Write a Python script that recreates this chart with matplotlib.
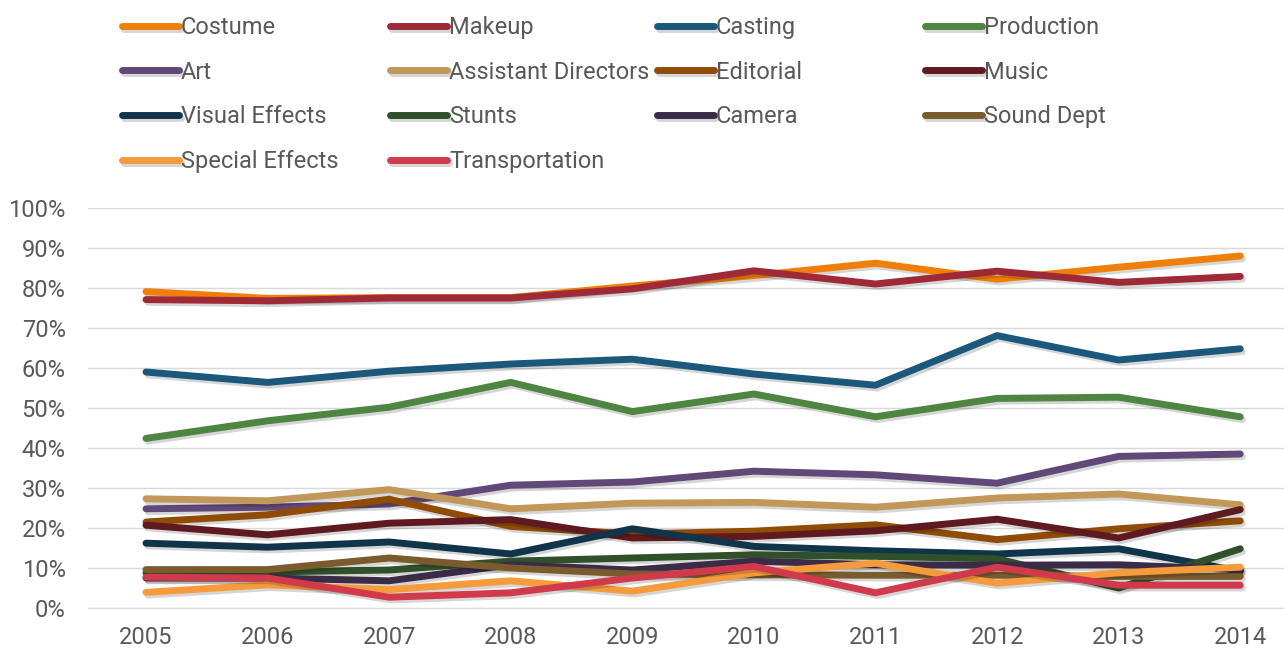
import matplotlib
matplotlib.use('Agg')
import matplotlib.pyplot as plt
import matplotlib.patheffects as pe
from matplotlib.ticker import PercentFormatter

plt.rcParams['font.family'] = ['Roboto', 'DejaVu Sans']

years = ['2005', '2006', '2007', '2008', '2009', '2010', '2011', '2012', '2013', '2014']

costume = [79.1, 77.4, 77.6, 77.6, 80.5, 83.1, 86.2, 82.2, 85.2, 88.0]
makeup = [77.1, 76.8, 77.5, 77.5, 79.8, 84.3, 81.0, 84.2, 81.4, 82.9]
casting = [59.0, 56.4, 59.2, 61.0, 62.2, 58.5, 55.7, 68.1, 62.0, 64.8]
production = [42.4, 46.8, 50.2, 56.4, 49.1, 53.5, 47.8, 52.4, 52.7, 47.8]
art = [24.8, 25.2, 26.0, 30.7, 31.5, 34.2, 33.3, 31.2, 37.9, 38.5]
asst_directors = [27.3, 26.8, 29.6, 24.8, 26.2, 26.4, 25.2, 27.5, 28.5, 25.8]
editorial = [21.5, 23.3, 27.2, 20.4, 18.5, 19.2, 20.8, 17.1, 19.8, 21.8]
music = [20.7, 18.3, 21.2, 22.1, 17.5, 17.9, 19.3, 22.2, 17.5, 24.6]
visual_effects = [16.2, 15.2, 16.5, 13.5, 19.8, 15.4, 14.3, 13.5, 14.8, 9.2]
stunts = [8.8, 9.0, 9.5, 11.7, 12.5, 13.3, 12.9, 12.3, 5.0, 14.8]
camera = [7.5, 7.5, 6.8, 10.8, 9.5, 11.7, 10.8, 10.7, 10.8, 9.6]
sound_dept = [9.6, 9.6, 12.5, 10.0, 8.5, 8.3, 8.2, 8.2, 7.9, 7.9]
special_effects = [3.9, 5.8, 4.6, 6.8, 4.2, 8.8, 11.2, 6.2, 8.8, 10.2]
transportation = [7.7, 7.5, 2.7, 3.8, 7.5, 10.4, 3.8, 10.2, 5.7, 5.7]

series = [
    ('Costume', costume, '#F07F09'),
    ('Makeup', makeup, '#9F2936'),
    ('Casting', casting, '#1B587C'),
    ('Production', production, '#4E8542'),
    ('Art', art, '#604878'),
    ('Assistant Directors', asst_directors, '#C19859'),
    ('Editorial', editorial, '#904C05'),
    ('Music', music, '#5F1920'),
    ('Visual Effects', visual_effects, '#10344A'),
    ('Stunts', stunts, '#2F5028'),
    ('Camera', camera, '#3A2B48'),
    ('Sound Dept', sound_dept, '#7A5B2E'),
    ('Special Effects', special_effects, '#F59B3C'),
    ('Transportation', transportation, '#D03A4A'),
]

fig = plt.figure(figsize=(12.84, 6.48), dpi=100)
ax = fig.add_axes([88 / 1284, 40 / 648, 1196 / 1284, 400 / 648])

x = list(range(len(years)))
handles = []
for name, vals, col in series:
    line, = ax.plot(x, [v / 100 for v in vals], color=col, lw=5, label=name,
                    solid_capstyle='round', solid_joinstyle='round',
                    path_effects=[pe.SimpleLineShadow(offset=(1.5, -2), shadow_color='black', alpha=0.16),
                                  pe.Normal()])
    handles.append(line)

ax.set_xlim(-0.477, 9.36)
ax.set_ylim(0, 1)
ax.set_yticks([i / 10 for i in range(11)])
ax.yaxis.set_major_formatter(PercentFormatter(1.0, decimals=0))
ax.set_xticks(x)
ax.set_xticklabels(years)
ax.tick_params(length=0, labelsize=17, colors='#595959', pad=13)
ax.tick_params(axis='y', pad=16)
ax.grid(axis='y', color='#D9D9D9', lw=1)
ax.set_axisbelow(True)
for s in ['top', 'right', 'left']:
    ax.spines[s].set_visible(False)
ax.spines['bottom'].set_color('#D9D9D9')

# legend: four fixed-width columns, filled row by row
col_x = [122, 390, 657, 925]
for c in range(4):
    hs = [handles[i] for i in range(c, len(handles), 4)]
    leg = fig.legend(handles=hs, loc='upper left',
                     bbox_to_anchor=(col_x[c] / 1284, 1 - 16 / 648),
                     frameon=False, fontsize=17, handlelength=2.4,
                     handletextpad=0.1, labelspacing=0.92, borderpad=0,
                     borderaxespad=0)
    for t in leg.get_texts():
        t.set_color('#595959')

fig.savefig('out.png', dpi=100)
